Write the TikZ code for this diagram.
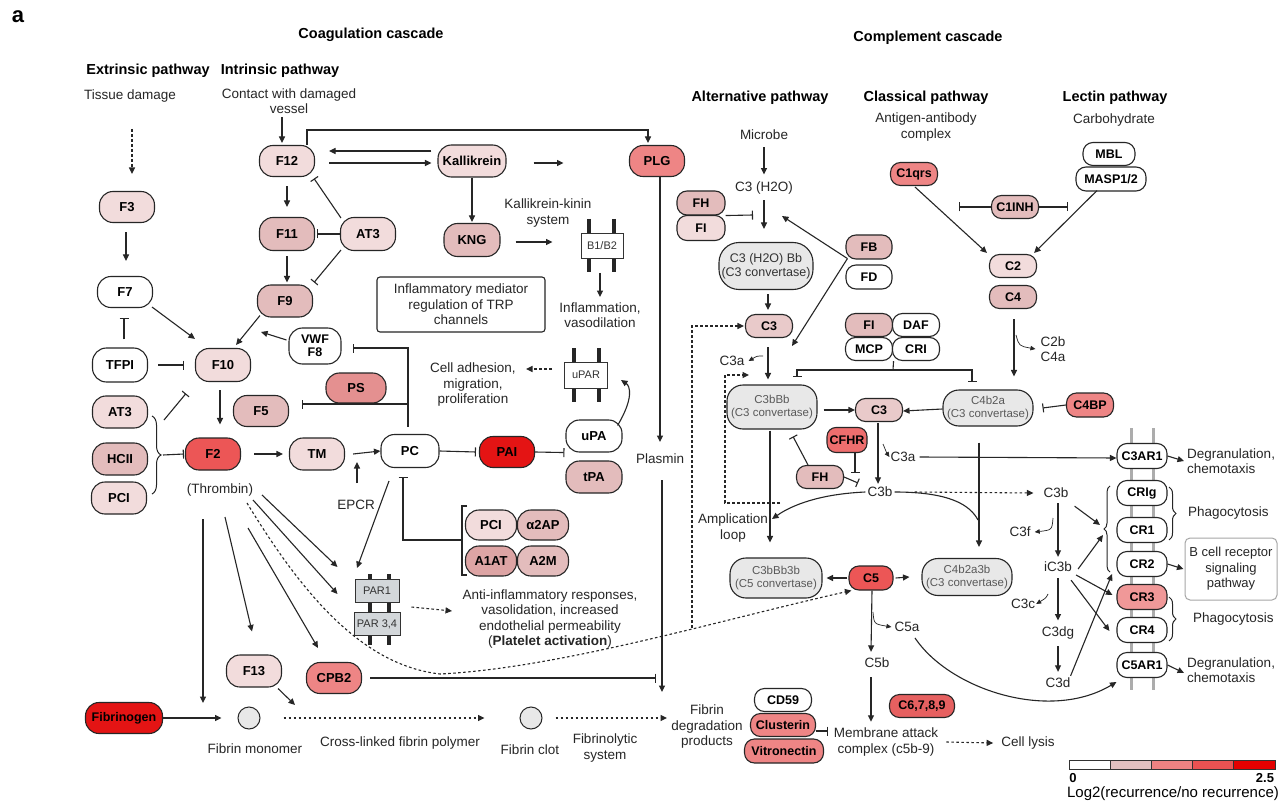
\documentclass[tikz,border=0pt]{standalone}
\usepackage{fontspec}
\setmainfont{Liberation Sans}
\usetikzlibrary{arrows.meta,decorations.pathreplacing}
\definecolor{c1}{HTML}{F2DCDC}
\definecolor{c2}{HTML}{E3BCBC}
\definecolor{c3}{HTML}{EE8585}
\definecolor{c4}{HTML}{EC5656}
\definecolor{c5}{HTML}{E41414}
\definecolor{cps}{HTML}{E49090}
\definecolor{cat}{HTML}{DDA4A4}
\definecolor{c3x}{HTML}{E9CACA}
\definecolor{cfhr}{HTML}{EE6E6E}
\definecolor{c6}{HTML}{E66060}
\definecolor{ccr}{HTML}{F09898}
\definecolor{cgray}{HTML}{E8E8E8}
\definecolor{cpar}{HTML}{D3D7DA}
\definecolor{cb1}{HTML}{E2C1C1}
\definecolor{cb2}{HTML}{EF8282}
\definecolor{cb3}{HTML}{EA5252}
\definecolor{cb4}{HTML}{E40000}
\tikzset{
  nbase/.style={draw=black!85, line width=1.1pt, align=center, inner sep=1pt, font=\bfseries\fontsize{13}{14}\selectfont},
  pill/.style={nbase, rounded corners=13.5pt, minimum width=55pt, minimum height=31pt},
  spill/.style={nbase, rounded corners=10pt, minimum width=47pt, minimum height=23pt, font=\bfseries\fontsize{12.5}{14}\selectfont},
  conv/.style={draw=black!85, line width=1.1pt, fill=cgray, rounded corners=16pt, align=center, inner sep=1pt, font=\fontsize{11.5}{13}\selectfont, text=black!65},
  lab/.style={align=center, inner sep=2pt, font=\fontsize{13.5}{15.5}\selectfont, text=black!85},
  head/.style={inner sep=0pt, font=\bfseries\fontsize{14.5}{16}\selectfont},
  arr/.style={draw=black!85, line width=1.1pt, -{Triangle[length=6.5pt,width=6pt]}},
  inh/.style={draw=black!85, line width=1.1pt, -{Bar[width=9pt]}},
  darr/.style={arr, dash pattern=on 2.6pt off 2.4pt},
  sarr/.style={draw=black!85, line width=0.7pt, -{Triangle[length=5pt,width=4.5pt]}},
  sln/.style={draw=black!85, line width=1.1pt},
  mem/.style={draw=black!85, line width=3.2pt},
  rmem/.style={draw=gray!65, line width=3pt},
  recb/.style={draw=black!80, line width=1pt, font=\fontsize{11}{12}\selectfont, text=black!80, inner sep=1pt},
  brc/.style={draw=black!85, line width=1pt, decorate}
}
\begin{document}
\begin{tikzpicture}[x=1pt,y=-1pt]
\useasboundingbox (0,0) rectangle (1287,802);
\fill[white] (0,0) rectangle (1287,802);

% ---------- headings ----------
\node[font=\bfseries\fontsize{22}{24}\selectfont] (ta) at (18,17) {a};
\node[head] (hcoag) at (371,35) {Coagulation cascade};
\node[head] (hcomp) at (928,38) {Complement cascade};
\node[head] (hext) at (148,71) {Extrinsic pathway};
\node[head] (hint) at (280,71) {Intrinsic pathway};
\node[head] (halt) at (760,98) {Alternative pathway};
\node[head] (hcla) at (926,98) {Classical pathway};
\node[head] (hlec) at (1115,98) {Lectin pathway};

% ---------- membranes ----------
\draw[mem] (589,219) -- (589,272);
\draw[mem] (614,219) -- (614,272);
\draw[mem] (574,348) -- (574,402);
\draw[mem] (599,348) -- (599,402);
\draw[mem] (370,574) -- (370,645);
\draw[mem] (389,574) -- (389,645);
\draw[rmem] (1131,428) -- (1131,690);
\draw[rmem] (1153,428) -- (1153,690);

% ---------- coagulation labels ----------
\node[lab] (ltd) at (130,96) {Tissue damage};
\node[lab] (lcv) at (289,101) {Contact with damaged\\vessel};
\node[lab] (lkk) at (548,213) {Kallikrein-kinin\\system};
\node[lab] (linf) at (600,315) {Inflammation,\\vasodilation};
\node[lab] (lcell) at (473,385) {Cell adhesion,\\migration,\\proliferation};
\node[lab] (lpl) at (660,459) {Plasmin};
\node[lab] (lthr) at (220,490) {(Thrombin)};
\node[lab] (lepcr) at (356,505) {EPCR};
\node[lab] (lanti) at (550,619) {Anti-inflammatory responses,\\vasolidation, increased\\endothelial permeability\\(\textbf{Platelet activation})};
\node[lab] (lmono) at (255,749) {Fibrin monomer};
\node[lab] (lcross) at (400,743) {Cross-linked fibrin polymer};
\node[lab] (lclot) at (530,750) {Fibrin clot};
\node[lab] (lfs) at (605,748) {Fibrinolytic\\system};
\node[lab] (lfdp) at (707,727) {Fibrin\\degradation\\products};
\node[lab, draw=black!85, line width=1.1pt, rounded corners=3pt, minimum width=168pt, minimum height=55pt] (infl) at (461,304.5) {Inflammatory mediator\\regulation of TRP\\channels};

% ---------- coagulation nodes ----------
\node[pill, fill=c1] (F3) at (127,207) {F3};
\node[pill, fill=white] (F7) at (125,292) {F7};
\node[pill, fill=white, minimum height=34pt, rounded corners=14pt] (TFPI) at (120,365) {TFPI};
\node[pill, fill=c1, minimum height=33pt] (F10) at (223,365) {F10};
\node[pill, fill=c2, minimum height=32pt] (F9) at (285,301) {F9};
\node[pill, fill=white, minimum width=52pt, minimum height=36pt, font=\bfseries\fontsize{12.5}{13}\selectfont] (VWF) at (315,346) {VWF\\F8};
\node[pill, fill=c2] (F5) at (261,411) {F5};
\node[pill, fill=cps, minimum width=60pt, minimum height=30pt] (PS) at (356,388) {PS};
\node[pill, fill=c1, minimum height=32pt] (AT3L) at (120,412) {AT3};
\node[pill, fill=c2, minimum height=32pt] (HCII) at (120,459) {HCII};
\node[pill, fill=c1, minimum height=32pt] (PCIL) at (119,498) {PCI};
\node[pill, fill=c4, minimum height=32pt] (F2) at (213,454) {F2};
\node[pill, fill=c1, minimum height=32pt] (TM) at (317,454) {TM};
\node[pill, fill=white, minimum width=58pt, minimum height=33pt] (PC) at (410,451) {PC};
\node[pill, fill=c1] (F12) at (287,161) {F12};
\node[pill, fill=c2, minimum height=33pt] (F11) at (287,234) {F11};
\node[pill, fill=c1, minimum height=33pt] (AT3T) at (368,234) {AT3};
\node[pill, fill=c1, minimum width=68pt, minimum height=32pt] (Kal) at (472,161) {Kallikrein};
\node[pill, fill=c3] (PLG) at (657,161) {PLG};
\node[pill, fill=c2, minimum width=56pt, minimum height=33pt] (KNG) at (472,240) {KNG};
\node[pill, fill=c5] (PAI) at (507,452) {PAI};
\node[pill, fill=white, minimum width=56pt, minimum height=32pt] (uPA) at (594,436) {uPA};
\node[pill, fill=c2, minimum width=56pt, minimum height=32pt] (tPA) at (594,477) {tPA};
\node[pill, fill=c1, minimum width=51pt, minimum height=30pt] (PCIR) at (491,525) {PCI};
\node[pill, fill=c2, minimum width=51pt, minimum height=30pt] (A2AP) at (543,525) {α2AP};
\node[pill, fill=cat, minimum width=51pt, minimum height=30pt] (A1AT) at (491,561) {A1AT};
\node[pill, fill=c2, minimum width=51pt, minimum height=30pt] (A2M) at (543,561) {A2M};
\node[pill, fill=c1, minimum height=32pt] (F13) at (254,671) {F13};
\node[pill, fill=c3] (CPB2) at (334,678) {CPB2};
\node[pill, fill=c5, minimum width=77pt, font=\bfseries\fontsize{12.5}{14}\selectfont] (Fbg) at (124,718) {Fibrinogen};
\node[circle, draw=black!85, line width=1pt, fill=cgray, minimum size=22pt, inner sep=0pt] (mono) at (249,718) {};
\node[circle, draw=black!85, line width=1pt, fill=cgray, minimum size=22pt, inner sep=0pt] (clot) at (531,718) {};
\node[recb, fill=white, minimum width=42pt, minimum height=25pt] (B12) at (602,246) {B1/B2};
\node[recb, fill=white, minimum width=43pt, minimum height=26pt] (uPAR) at (586,375) {uPAR};
\node[recb, fill=cpar, minimum width=44pt, minimum height=23pt] (PAR1) at (377,591) {PAR1};
\node[recb, fill=cpar, minimum width=46pt, minimum height=23pt] (PAR34) at (377,624) {PAR 3,4};

% ---------- coagulation edges ----------
\coordinate (tdam) at (132,129);
\draw[darr] (tdam) -- (132,174);
\draw[arr] ([xshift=-1pt,yshift=-9pt]F3.south) -- ([xshift=1pt,yshift=15pt]F7.north);
\draw[arr] (282,117) -- ([xshift=-5pt,yshift=2pt]F12.north);
\draw[arr] ([yshift=-9pt]F12.south) -- ([yshift=10pt]F11.north);
\draw[arr] ([yshift=-5pt]F11.south) -- ([xshift=2pt,yshift=2pt]F9.north);
\draw[inh] (AT3T.west) -- ([xshift=1.5pt]F11.east);
\draw[inh] ([xshift=1pt,yshift=-1pt]AT3T.north west) -- ([xshift=-1pt,yshift=-1.5pt]F12.south east);
\draw[inh] ([xshift=1pt,yshift=1pt]AT3T.south west) -- ([xshift=1pt,yshift=2pt]F9.north east);
\draw[arr] ([xshift=3pt,yshift=2pt]F9.south west) -- ([xshift=-15pt,yshift=3pt]F10.north east);
\draw[arr] ([xshift=-2pt,yshift=6pt]VWF.west) -- ([xshift=10pt,yshift=16pt]F10.north east);
\draw[arr] ([xshift=-1pt,yshift=1pt]F7.south east) -- ([yshift=9pt]F10.north west);
\draw[inh] ([xshift=4pt,yshift=8pt]TFPI.north) -- ([xshift=-1pt,yshift=-10pt]F7.south);
\draw[inh] ([xshift=10pt]TFPI.east) -- ([xshift=-11pt]F10.west);
\draw[arr] ([xshift=-3pt,yshift=-8pt]F10.south) -- ([xshift=7pt,yshift=13pt]F2.north);
\draw[brc, decoration={brace, amplitude=9pt}] (152,416) -- (152,494);
\draw[inh] (164,420) -- ([xshift=-9pt,yshift=-11.5pt]F10.south west);
\draw[inh] (163,455) -- ([xshift=-1pt]F2.west);
\draw[inh] ([xshift=-2pt,yshift=7pt]PC.north) |- ([xshift=11pt,yshift=-2pt]VWF.east);
\draw[inh] (408,404) -- ([xshift=13pt,yshift=7pt]F5.east);
\draw[arr] ([xshift=13pt]F2.east) -- ([xshift=-6pt]TM.west);
\draw[arr] ([xshift=8pt]TM.east) -- (PC.west);
\draw[arr] (357,483) -- (357,462);
\draw[arr] (389,481) -- ([xshift=-20pt,yshift=11pt]PAR1.north);
\draw[inh] (462,540) -| (403,477);
\draw[sln] (467,506) -- (462,506) -- (462,575) -- (467,575);
\draw[inh] (PC.east) -- ([xshift=-3pt]PAI.west);
\draw[inh] (PAI.east) -- ([xshift=-1pt]uPA.south west);
\draw[arr] ([xshift=-5pt,yshift=-6pt]uPA.north east) .. controls (634,398) and (630,386) .. ([xshift=13pt,yshift=-5pt]uPAR.east);
\draw[darr] ([xshift=-12pt,yshift=6pt]uPAR.west) -- (526,369);
\draw[arr] ([xshift=15pt,yshift=-2pt]KNG.east) -- ([xshift=-28pt,yshift=4pt]B12.west);
\draw[arr] ([xshift=-2pt,yshift=-14pt]B12.south) -- ++(0,24);
\draw[arr] (Kal.south) -- ([yshift=1pt]KNG.north);
\draw[arr] ([xshift=-6pt,yshift=10pt]Kal.west) -- ([xshift=14pt,yshift=10pt]F12.east);
\draw[arr] ([xshift=14pt,yshift=-2pt]F12.east) -- ([xshift=-6pt,yshift=-2pt]Kal.west);
\draw[arr] ([xshift=27pt,yshift=-2pt]Kal.east) -- ++(30,0);
\draw[arr] ([xshift=20pt]F12.north) |- (648,130) -- ([xshift=-9pt,yshift=2pt]PLG.north);
\draw[arr] ([xshift=3pt]PLG.south) -- (660,442);
\draw[arr] (662,480) -- (662,692);
\draw[inh] ([xshift=8pt]CPB2.east) -- (656,678);
% thrombin
\draw[arr] (203,519) -- (203,703);
\draw[arr] (225,517) -- ([xshift=-2pt,yshift=23pt]F13.north);
\draw[arr] (248,528) -- ([xshift=-16pt,yshift=14pt]CPB2.north);
\draw[arr] (262,495) -- ([xshift=-17pt,yshift=12pt]PAR1.north west);
\draw[arr] (253,500) -- ([xshift=-17pt,yshift=-3pt]PAR1.west);
\draw[arr] ([xshift=-4pt,yshift=-1pt]F13.south east) -- (295,705);
\draw[arr] (Fbg.east) -- ([xshift=-16pt]mono.west);
\draw[darr] ([xshift=23pt]mono.east) -- ([xshift=-35pt]clot.west);
\draw[darr] ([xshift=13pt]clot.east) -- (667,718);
\draw[darr] ([xshift=12pt,yshift=-4pt]PAR1.south east) -- (452,611);

% ---------- complement labels ----------
\node[lab] (lmic) at (764,135) {Microbe};
\node[lab] (lh2o) at (764,188) {C3 (H2O)};
\node[lab] (lagc) at (926,127) {Antigen-antibody\\complex};
\node[lab] (lcarb) at (1114,120) {Carbohydrate};
\node[lab] (lc2b) at (1053,349) {C2b\\C4a};
\node[lab] (lc3a1) at (732,361) {C3a};
\node[lab] (lc3a2) at (903,457) {C3a};
\node[lab] (lc3bL) at (880,492) {C3b};
\node[lab] (lc3bR) at (1056,493) {C3b};
\node[lab] (lc3f) at (1020,532) {C3f};
\node[lab] (lic3b) at (1058,567) {iC3b};
\node[lab] (lc3c) at (1023,604) {C3c};
\node[lab] (lc3dg) at (1058,633) {C3dg};
\node[lab] (lc3d) at (1058,683) {C3d};
\node[lab] (lc5a) at (907,627) {C5a};
\node[lab] (lc5b) at (877,663) {C5b};
\node[lab] (lamp) at (733,528) {Amplication\\loop};
\node[lab] (lmac) at (886,742) {Membrane attack\\complex (c5b-9)};
\node[lab] (llys) at (1028,743) {Cell lysis};
\node[lab, anchor=west, align=left] (ldeg1) at (1185,461) {Degranulation,\\chemotaxis};
\node[lab, anchor=west] (lph1) at (1186,513) {Phagocytosis};
\node[lab, anchor=west] (lph2) at (1191,619) {Phagocytosis};
\node[lab, anchor=west, align=left] (ldeg2) at (1185,670) {Degranulation,\\chemotaxis};
\node[lab, draw=gray!70, line width=1pt, rounded corners=5pt, minimum width=92pt, minimum height=62pt, font=\fontsize{13}{15.5}\selectfont] (bcell) at (1231,569) {B cell receptor\\signaling\\pathway};

% ---------- complement nodes ----------
\node[spill, fill=c2, minimum width=48pt, minimum height=24pt] (FHa) at (701,203) {FH};
\node[spill, fill=c1, minimum width=48pt, minimum height=25pt] (FIa) at (701,228) {FI};
\node[spill, fill=c2, minimum width=46pt, minimum height=24pt] (FB) at (869,247) {FB};
\node[spill, fill=white, minimum width=46pt, minimum height=24pt] (FD) at (869,277) {FD};
\node[conv, minimum width=94pt, minimum height=47pt, rounded corners=20pt, font=\fontsize{12.5}{14}\selectfont, text=black!80] (CHB) at (766,266) {C3 (H2O) Bb\\(C3 convertase)};
\node[spill, fill=c3x] (C3x) at (769,326) {C3};
\node[spill, fill=c2] (FIb) at (869,325) {FI};
\node[spill, fill=white] (DAF) at (916,325) {DAF};
\node[spill, fill=white] (MCP) at (869,349) {MCP};
\node[spill, fill=white] (CRI) at (916,349) {CRI};
\node[spill, fill=c3] (C1q) at (914,174) {C1qrs};
\node[spill, fill=c2] (C1INH) at (1015,207) {C1INH};
\node[spill, fill=white, minimum width=52pt] (MBL) at (1109,154) {MBL};
\node[spill, fill=white, minimum width=70pt, minimum height=24pt] (MASP) at (1111,179) {MASP1/2};
\node[spill, fill=c1] (C2) at (1013,266) {C2};
\node[spill, fill=c2] (C4) at (1013,297) {C4};
\node[conv, minimum width=90pt, minimum height=44pt] (C3bBb) at (772,407) {C3bBb\\(C3 convertase)};
\node[spill, fill=c3x] (C3y) at (879,410) {C3};
\node[conv, minimum width=90pt, minimum height=36pt] (C4b2a) at (988,408) {C4b2a\\(C3 convertase)};
\node[spill, fill=c3, minimum height=24pt] (C4BP) at (1090,405) {C4BP};
\node[spill, fill=cfhr, minimum width=40pt, minimum height=25pt, rounded corners=9pt] (CFHR) at (847,440) {CFHR};
\node[spill, fill=c2] (FHb) at (820,477) {FH};
\node[conv, minimum width=92pt, minimum height=40pt] (C5conv) at (776,578) {C3bBb3b\\(C5 convertase)};
\node[spill, fill=c4, minimum width=44pt, minimum height=24pt] (C5) at (871,578) {C5};
\node[conv, minimum width=90pt, minimum height=37pt] (C3conv2) at (967,577) {C4b2a3b\\(C3 convertase)};
\node[spill, fill=c6, minimum width=65pt] (C69) at (922,706) {C6,7,8,9};
\node[spill, fill=white, minimum width=57pt] (CD59) at (783,700) {CD59};
\node[spill, fill=c3, minimum width=65pt] (Clu) at (783,725) {Clusterin};
\node[spill, fill=c3, minimum width=79pt, minimum height=24pt] (Vit) at (784,751) {Vitronectin};
\node[spill, fill=white, minimum width=50pt, minimum height=25pt] (C3AR1) at (1142,456) {C3AR1};
\node[spill, fill=white, minimum width=50pt, minimum height=25pt] (CRIg) at (1142,493) {CRIg};
\node[spill, fill=white, minimum width=50pt, minimum height=25pt] (CR1) at (1142,530) {CR1};
\node[spill, fill=white, minimum width=50pt, minimum height=25pt] (CR2) at (1142,564) {CR2};
\node[spill, fill=ccr, minimum width=50pt, minimum height=25pt] (CR3) at (1142,597) {CR3};
\node[spill, fill=white, minimum width=50pt, minimum height=25pt] (CR4) at (1142,630) {CR4};
\node[spill, fill=white, minimum width=50pt, minimum height=25pt] (C5AR1) at (1142,665) {C5AR1};

% ---------- complement edges ----------
\draw[arr] ([yshift=-5pt]lmic.south) -- ([yshift=5pt]lh2o.north);
\draw[arr] ([yshift=-4pt]lh2o.south) -- ([xshift=-2pt,yshift=13pt]CHB.north);
\draw[inh] (FHa.south east) -- (753,215);
\draw[arr] ([xshift=2pt,yshift=1pt]FB.south west) -- (782,216);
\draw[arr] ([xshift=2pt,yshift=1pt]FB.south west) -- (792,346);
\draw[arr] ([xshift=2pt,yshift=-4pt]CHB.south) -- ([xshift=-1pt,yshift=4pt]C3x.north);
\draw[darr] (692,628) |- ([xshift=-1pt]C3x.west);
\draw[arr] ([xshift=-1pt,yshift=-9pt]C3x.south) -- ([xshift=-4pt,yshift=5pt]C3bBb.north);
\draw[sarr] (763,356) .. controls (757,356) .. ([xshift=2pt]lc3a1.east);
\draw[darr] (780,503) -- (725,503) -- (725,375) -- (749,375);
\draw[sln] ([xshift=0.5pt]MCP.south east) -- (893,370);
\draw[inh] (893,370) -| (797,377);
\draw[inh] (893,370) -| (972,382);
\draw[arr] ([xshift=6pt,yshift=-3pt]C3bBb.east) -- (C3y.west);
\draw[arr] ([yshift=-1pt]C4b2a.west) -- ([yshift=-1pt]C3y.east);
\draw[inh] (C4BP.west) -- ([xshift=9pt]C4b2a.east);
\draw[arr] ([xshift=1pt,yshift=-10pt]C4.south) -- ([xshift=26pt,yshift=13pt]C4b2a.north);
\draw[sarr] (1016,335) .. controls (1019,346) .. ([xshift=-3pt]lc2b.west);
\draw[arr] ([xshift=1pt,yshift=-1pt]C1q.south) -- ([xshift=-2pt,yshift=1pt]C2.north west);
\draw[arr] ([xshift=-14pt,yshift=1pt]MASP.south) -- ([xshift=-3pt,yshift=1pt]C2.north east);
\draw[inh] (C1INH.west) -- ++(-32,0);
\draw[inh] (C1INH.east) -- ++(29,0);
\draw[inh] ([xshift=8pt]CFHR.south) -- ++(0,20);
\draw[inh] ([xshift=-12pt]FHb.north) -- ([xshift=21pt,yshift=-7pt]C3bBb.south);
\draw[inh] (FHb.east) -- (858,483);
\draw[arr] ([xshift=-1pt,yshift=-1pt]C3y.south) -- ([xshift=-2pt,yshift=1pt]lc3bL.north);
\draw[sarr] (883,444) .. controls (884,449) .. ([xshift=1pt]lc3a2.west);
\draw[arr] ([xshift=2pt]lc3a2.east) -- ([yshift=-2pt]C3AR1.west);
\draw[arr] (lc3bL.west) .. controls (820,494) and (792,505) .. (772,519);
\draw[sln] (lc3bL.east) .. controls (950,492) and (970,505) .. (978,520);
\draw[arr] ([xshift=-9pt,yshift=-16pt]C4b2a.south) -- ([xshift=12pt,yshift=11pt]C3conv2.north);
\draw[darr] ([xshift=20pt]lc3bL.east) -- ([xshift=-8pt]lc3bR.west);
\draw[arr] ([xshift=-2pt,yshift=-1pt]C3bBb.south) -- ([xshift=-6pt,yshift=15pt]C5conv.north);
\draw[arr] ([xshift=-1pt]C5.west) -- ([xshift=4pt]C5conv.east);
\draw[arr] ([xshift=2pt]C5.east) -- ([xshift=-12pt]C3conv2.west);
\draw[arr] ([xshift=1pt]C5.south) -- ([yshift=4pt]lc5b.north -| C5.south);
\draw[sarr] (873,612) .. controls (874,624) .. ([xshift=-1pt]lc5a.west);
\draw[arr] ([yshift=-7pt]lc5b.south -| C5.south) -- ([yshift=4pt]lmac.north -| C5.south);
\draw[darr] ([xshift=6pt]lmac.east) -- ([xshift=-6pt]llys.west);
\draw[inh] ([yshift=-6pt]Clu.east) -- ++(12,0);
\draw[arr] ([xshift=8pt,yshift=-4pt]lc5a.south) .. controls (950,690) and (1050,722) .. ([yshift=-17pt]C5AR1.west);
\draw[arr] ([xshift=2pt,yshift=-3pt]lc3bR.south) -- ([yshift=3pt]lic3b.north);
\draw[sarr] (1053,518) .. controls (1052,530) .. ([xshift=2pt]lc3f.east);
\draw[arr] ([xshift=4pt,yshift=-6pt]lc3bR.south east) -- (1100,525);
\draw[arr] ([xshift=4pt,yshift=-2pt]lic3b.east) -- (1103,535);
\draw[arr] ([xshift=2pt,yshift=-8pt]lic3b.east) -- ([xshift=-4pt,yshift=2pt]CR3.west);
\draw[arr] ([xshift=-3pt,yshift=-6pt]lic3b.south east) -- ([xshift=-7pt,yshift=-1pt]CR4.west);
\draw[sarr] (1048,594) .. controls (1046,598) .. ([xshift=-1pt]lc3c.east);
\draw[arr] ([yshift=-4pt]lic3b.south) -- ([yshift=4pt]lc3dg.north);
\draw[arr] ([yshift=-5pt]lc3dg.south) -- ([yshift=4pt]lc3d.north);
\draw[arr] ([xshift=-2pt]lc3d.north east) -- (1112,574);
\draw[arr] (C3AR1.east) -- ([xshift=-1pt]ldeg1.west);
\draw[arr] (CR2.east) -- ([xshift=-1pt]bcell.west);
\draw[arr] (C5AR1.east) -- ([xshift=-1pt,yshift=-3pt]ldeg2.west);
\draw[brc, decoration={brace, amplitude=6pt}] (1110,572) -- (1110,486);
\draw[brc, decoration={brace, amplitude=7pt}] (1169,487) -- (1169,540);
\draw[brc, decoration={brace, amplitude=7pt}] (1169,597) -- (1169,641);

% thrombin dotted curve to C5
\draw[darr] (247,503) .. controls (300,590) and (360,665) .. (440,674) .. controls (560,668) and (720,620) .. ([xshift=3pt]C5.south west);

% ---------- colour bar ----------
\foreach \i/\c in {0/white,1/cb1,2/cb2,3/cb3,4/cb4}
  \draw[draw=black!80, line width=0.8pt, fill=\c] (1069+\i*41.2,760) rectangle ++(41.2,9);
\node[font=\bfseries\fontsize{13}{14}\selectfont] (s0) at (1073,778) {0};
\node[font=\bfseries\fontsize{13}{14}\selectfont] (s25) at (1265,778) {2.5};
\node[font=\fontsize{15}{17}\selectfont] (slog) at (1173,794) {Log2(recurrence/no recurrence)};
\end{tikzpicture}
\end{document}
